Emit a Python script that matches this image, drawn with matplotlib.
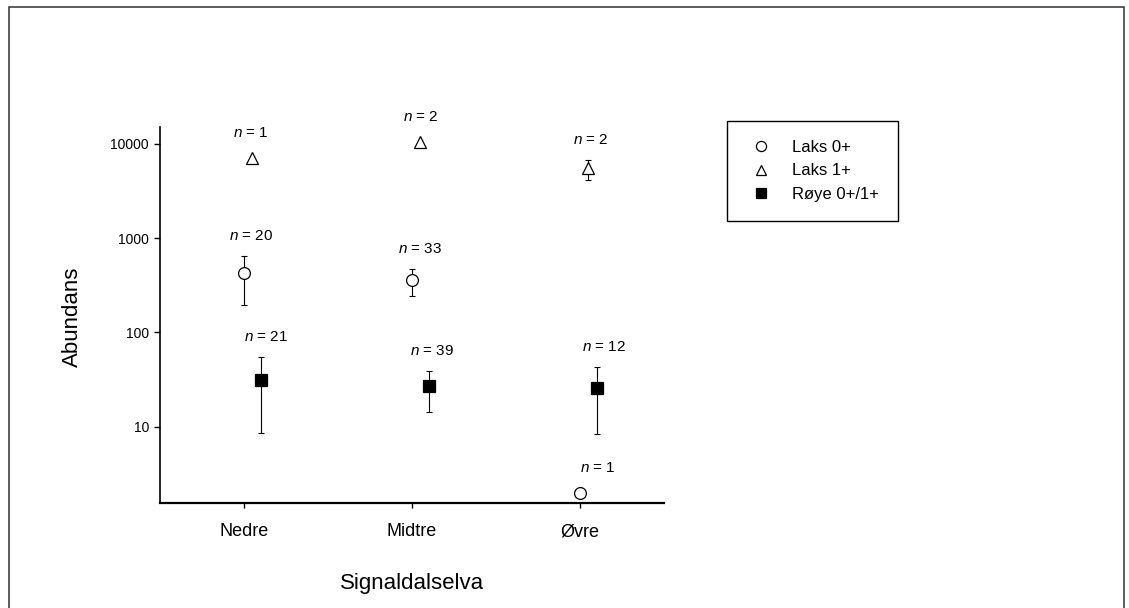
import numpy as np
import matplotlib
matplotlib.use("Agg")
import matplotlib.pyplot as plt
from matplotlib.lines import Line2D
from matplotlib.patches import Rectangle
from matplotlib.ticker import FixedLocator, NullLocator

plt.rcParams['font.family'] = ['Liberation Sans', 'DejaVu Sans']
plt.rcParams['mathtext.fontset'] = 'custom'
plt.rcParams['mathtext.rm'] = 'Liberation Sans'
plt.rcParams['mathtext.it'] = 'Liberation Sans:italic'

# Strekninger i Signaldalselva
sites = ["Nedre", "Midtre", "Øvre"]

# Laks 0+
laks0 = [425, 360, 2]
laks0_hi = [650, 472, np.nan]
laks0_lo = [196, 246, np.nan]
laks0_n = [20, 33, 1]

# Laks 1+
laks1 = [7150, 10500, 5500]
laks1_hi = [np.nan, np.nan, 6750]
laks1_lo = [np.nan, np.nan, 4150]
laks1_n = [1, 2, 2]

# Røye 0+/1+
roye = [31.5, 27, 25.5]
roye_hi = [55, 39, 43]
roye_lo = [8.6, 14.4, 8.4]
roye_n = [21, 39, 12]

yticks = [10, 100, 1000, 10000]

fig = plt.figure(figsize=(11.29, 6.08), dpi=100)
ax = fig.add_axes([160 / 1129, 1 - 503 / 608, 504 / 1129, 376 / 608])

x = np.arange(len(sites))

series = [
    # values, hi, lo, n, x-shift, marker, face, label, label nudge (px)
    (laks0, laks0_hi, laks0_lo, laks0_n, 0.0, 'o', 'white', 'Laks 0+', [7, 8, 18]),
    (laks1, laks1_hi, laks1_lo, laks1_n, 0.05, '^', 'white', 'Laks 1+', [-2, 0, 2]),
    (roye, roye_hi, roye_lo, roye_n, 0.10, 's', 'black', 'Røye 0+/1+', [5, 3, 7]),
]

handles = []
for vals, hi, lo, ns, shift, mk, face, lab, nudge in series:
    vals = np.array(vals, dtype=float)
    hi = np.array(hi, dtype=float)
    lo = np.array(lo, dtype=float)
    xs = x + shift
    has_err = ~np.isnan(hi)
    if has_err.any():
        ax.errorbar(xs[has_err], vals[has_err],
                    yerr=[vals[has_err] - lo[has_err], hi[has_err] - vals[has_err]],
                    fmt='none', ecolor='black', elinewidth=0.8,
                    capsize=2.5, capthick=0.8, zorder=2)
    ms = 8.5 if mk != 's' else 8
    ax.plot(xs, vals, linestyle='none', marker=mk, markersize=ms,
            markerfacecolor=face, markeredgecolor='black',
            markeredgewidth=0.9, zorder=3, clip_on=False)
    handles.append(Line2D([], [], linestyle='none', marker=mk, markersize=7.3,
                          markerfacecolor=face, markeredgecolor='black',
                          markeredgewidth=0.9, label=lab))
    # n-tekst over hvert punkt
    for i in range(len(vals)):
        top = hi[i] if has_err[i] else vals[i]
        dy = 20 if has_err[i] else 25
        ax.annotate(f"$n$ = {ns[i]}", (xs[i], top),
                    xytext=(nudge[i] * 0.72, dy * 0.72), textcoords='offset points',
                    ha='center', va='center', fontsize=11, annotation_clip=False)

ax.set_yscale('log')
ax.set_ylim(1.55, 15100)
ax.set_xlim(-0.5, 2.5)
ax.yaxis.set_major_locator(FixedLocator(yticks))
ax.yaxis.set_minor_locator(NullLocator())
ax.set_yticklabels([str(t) for t in yticks], fontsize=10)
ax.set_xticks(x)
ax.set_xticklabels(sites, fontsize=13)

ax.spines['top'].set_visible(False)
ax.spines['right'].set_visible(False)
ax.spines['left'].set_linewidth(1.2)
ax.spines['bottom'].set_linewidth(1.6)
ax.tick_params(axis='y', length=4.5, width=1, pad=3.5)
ax.tick_params(axis='x', length=3.5, width=1, pad=11)

ax.set_ylabel("Abundans", fontsize=16)
ax.set_xlabel("Signaldalselva", fontsize=16)
ax.yaxis.set_label_coords(-0.153, 0.495)
ax.xaxis.set_label_coords(0.501, -0.186)

leg = fig.legend(handles=handles, loc='upper left',
                 bbox_to_anchor=(727 / 1129, 1 - 121 / 608),
                 fontsize=12, frameon=True, fancybox=False, framealpha=1,
                 edgecolor='black', borderpad=1.15, labelspacing=0.5,
                 handlelength=1.75, handletextpad=1.0, borderaxespad=0,
                 numpoints=1)
leg.get_frame().set_linewidth(1.0)

# ramme rundt hele figuren
fig.patches.append(Rectangle((9 / 1129, -0.05), (1124 - 9) / 1129, 1.05 - 7.3 / 608,
                             transform=fig.transFigure, fill=False,
                             edgecolor='#303030', linewidth=1.1))

fig.savefig("out.png", dpi=100)
